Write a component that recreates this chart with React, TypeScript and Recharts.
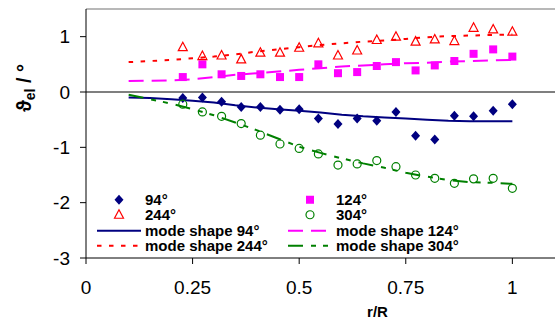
import React from 'react';
import { ComposedChart, Line, Scatter, XAxis, YAxis, ReferenceLine, Legend, Customized } from 'recharts';

const NAVY = '#000080';
const MAGENTA = '#FF00FF';
const RED = '#FF0000';
const GREEN = '#008000';
const FONT = '"Liberation Sans", Arial, sans-serif';

// measured points (r/R)
const rMeas = [0.227, 0.273, 0.318, 0.364, 0.409, 0.455, 0.5, 0.545, 0.591, 0.636, 0.682, 0.727, 0.773, 0.818, 0.864, 0.909, 0.955, 1.0];
const meas94 = [-0.11, -0.1, -0.175, -0.27, -0.27, -0.32, -0.31, -0.48, -0.58, -0.48, -0.52, -0.36, -0.79, -0.86, -0.43, -0.44, -0.34, -0.22];
const meas124 = [0.27, 0.5, 0.32, 0.29, 0.32, 0.27, 0.27, 0.5, 0.34, 0.36, 0.47, 0.54, 0.39, 0.48, 0.56, 0.69, 0.77, 0.64];
const meas244 = [0.81, 0.65, 0.66, 0.59, 0.71, 0.71, 0.8, 0.88, 0.66, 0.75, 0.94, 1.0, 0.91, 0.95, 0.92, 1.16, 1.13, 1.09];
const meas304 = [-0.22, -0.36, -0.44, -0.57, -0.78, -0.94, -1.02, -1.12, -1.32, -1.3, -1.24, -1.35, -1.5, -1.56, -1.65, -1.57, -1.56, -1.74];

// mode shapes
const rMode = [0.1, 0.15, 0.2, 0.25, 0.3, 0.35, 0.4, 0.45, 0.5, 0.55, 0.6, 0.65, 0.7, 0.75, 0.8, 0.85, 0.9, 0.95, 1.0];
const mode94 = [-0.1, -0.11, -0.13, -0.16, -0.19, -0.24, -0.28, -0.31, -0.34, -0.37, -0.41, -0.44, -0.46, -0.48, -0.5, -0.52, -0.53, -0.53, -0.53];
const mode124 = [0.2, 0.205, 0.21, 0.23, 0.27, 0.31, 0.34, 0.37, 0.4, 0.43, 0.46, 0.48, 0.5, 0.52, 0.53, 0.55, 0.56, 0.57, 0.58];
const mode244 = [0.54, 0.56, 0.58, 0.61, 0.64, 0.68, 0.73, 0.77, 0.81, 0.85, 0.88, 0.91, 0.93, 0.96, 0.99, 1.01, 1.02, 1.03, 1.04];
const mode304 = [-0.05, -0.13, -0.21, -0.31, -0.42, -0.55, -0.69, -0.84, -0.99, -1.1, -1.2, -1.29, -1.37, -1.46, -1.53, -1.59, -1.63, -1.64, -1.66];

const xTicks = [0, 0.25, 0.5, 0.75, 1];
const yTicks = [-3, -2, -1, 0, 1];

const measData = rMeas.map((r, i) => ({ r, v94: meas94[i], v124: meas124[i], v244: meas244[i], v304: meas304[i] }));
const modeData = rMode.map((r, i) => ({ r, s94: mode94[i], s124: mode124[i], s244: mode244[i], s304: mode304[i] }));

const DASH124 = '15 8';
const DASH244 = '4.5 7.5';
const DASH304 = '15 8 5 7 5 8';

const Diamond = (p: any) => (
  <polygon points={`${p.cx},${p.cy - 5} ${p.cx + 4.5},${p.cy} ${p.cx},${p.cy + 5} ${p.cx - 4.5},${p.cy}`} fill={NAVY} />
);
const Square = (p: any) => <rect x={p.cx - 4} y={p.cy - 4} width={8} height={8} fill={MAGENTA} />;
const Triangle = (p: any) => (
  <polygon points={`${p.cx},${p.cy - 5} ${p.cx + 4.5},${p.cy + 3.5} ${p.cx - 4.5},${p.cy + 3.5}`} fill="none" stroke={RED} strokeWidth={1.2} />
);
const Ring = (p: any) => <circle cx={p.cx} cy={p.cy} r={4} fill="none" stroke={GREEN} strokeWidth={1.2} />;

const legendItems = [
  { label: '94°', kind: 'marker', shape: Diamond },
  { label: '124°', kind: 'marker', shape: Square },
  { label: '244°', kind: 'marker', shape: Triangle },
  { label: '304°', kind: 'marker', shape: Ring },
  { label: 'mode shape 94°', kind: 'line', color: NAVY, dash: undefined },
  { label: 'mode shape 124°', kind: 'line', color: MAGENTA, dash: DASH124 },
  { label: 'mode shape 244°', kind: 'line', color: RED, dash: DASH244 },
  { label: 'mode shape 304°', kind: 'line', color: GREEN, dash: DASH304 },
];

const LegendBox = () => (
  <div
    style={{
      display: 'grid',
      gridTemplateColumns: '191px auto',
      fontFamily: FONT,
      fontSize: 15,
      fontWeight: 'bold',
      lineHeight: '15.5px',
      color: '#000',
    }}
  >
    {legendItems.map((it: any) => (
      <div key={it.label} style={{ display: 'flex', alignItems: 'center', height: 15.5, whiteSpace: 'nowrap' }}>
        <svg width={44} height={15.5} style={{ display: 'block' }}>
          {it.kind === 'marker' ? (
            <it.shape cx={22} cy={7.75} />
          ) : (
            <line x1={0} x2={44} y1={7.75} y2={7.75} stroke={it.color} strokeWidth={2} strokeDasharray={it.dash} />
          )}
        </svg>
        <span style={{ marginLeft: 4 }}>{it.label}</span>
      </div>
    ))}
  </div>
);

const AxisLabels = () => (
  <g fontFamily={FONT} fill="#000">
    <text transform="translate(31,88) rotate(-90)" textAnchor="middle" fontSize={20} fontWeight="bold">
      <tspan>ϑ</tspan>
      <tspan fontSize={14} dy={4}>el</tspan>
      <tspan dy={-4}> / °</tspan>
    </text>
    <text x={377.5} y={316.5} textAnchor="middle" fontSize={15} fontWeight="bold">r/R</text>
  </g>
);

export default function App() {
  const tickStyle = { fill: '#000', fontSize: 19, fontFamily: FONT };
  return (
    <div style={{ position: 'absolute', left: 0, top: 0 }}>
      <ComposedChart width={555} height={320} data={measData} margin={{ top: 9, right: 0, left: 0, bottom: 22 }}>
        <XAxis
          dataKey="r"
          type="number"
          domain={[0, 1.1]}
          ticks={xTicks}
          height={40}
          tickSize={6}
          tickMargin={17}
          tick={tickStyle}
          axisLine={{ stroke: '#000' }}
          tickLine={{ stroke: '#000' }}
        />
        <YAxis
          type="number"
          domain={[-3, 1.5]}
          ticks={yTicks}
          width={86}
          tickSize={6}
          tickMargin={10}
          tick={tickStyle}
          axisLine={{ stroke: '#000' }}
          tickLine={{ stroke: '#000' }}
          allowDataOverflow
        />
        <ReferenceLine y={1.5} stroke="#a0a0a0" strokeWidth={1.5} />
        <ReferenceLine y={0} stroke="#000" strokeWidth={1.2} />
        <Line data={modeData} dataKey="s94" type="linear" stroke={NAVY} strokeWidth={2} dot={false} isAnimationActive={false} legendType="none" />
        <Line data={modeData} dataKey="s124" type="linear" stroke={MAGENTA} strokeWidth={2} strokeDasharray={DASH124} dot={false} isAnimationActive={false} legendType="none" />
        <Line data={modeData} dataKey="s244" type="linear" stroke={RED} strokeWidth={2} strokeDasharray={DASH244} dot={false} isAnimationActive={false} legendType="none" />
        <Line data={modeData} dataKey="s304" type="linear" stroke={GREEN} strokeWidth={2} strokeDasharray={DASH304} dot={false} isAnimationActive={false} legendType="none" />
        <Scatter dataKey="v94" shape={Diamond} isAnimationActive={false} />
        <Scatter dataKey="v124" shape={Square} isAnimationActive={false} />
        <Scatter dataKey="v244" shape={Triangle} isAnimationActive={false} />
        <Scatter dataKey="v304" shape={Ring} isAnimationActive={false} />
        <Legend
          layout="vertical"
          align="center"
          verticalAlign="middle"
          wrapperStyle={{ position: 'absolute', left: 97, top: 191.5, width: 420 }}
          content={() => <LegendBox />}
        />
        <Customized component={AxisLabels} />
      </ComposedChart>
    </div>
  );
}
